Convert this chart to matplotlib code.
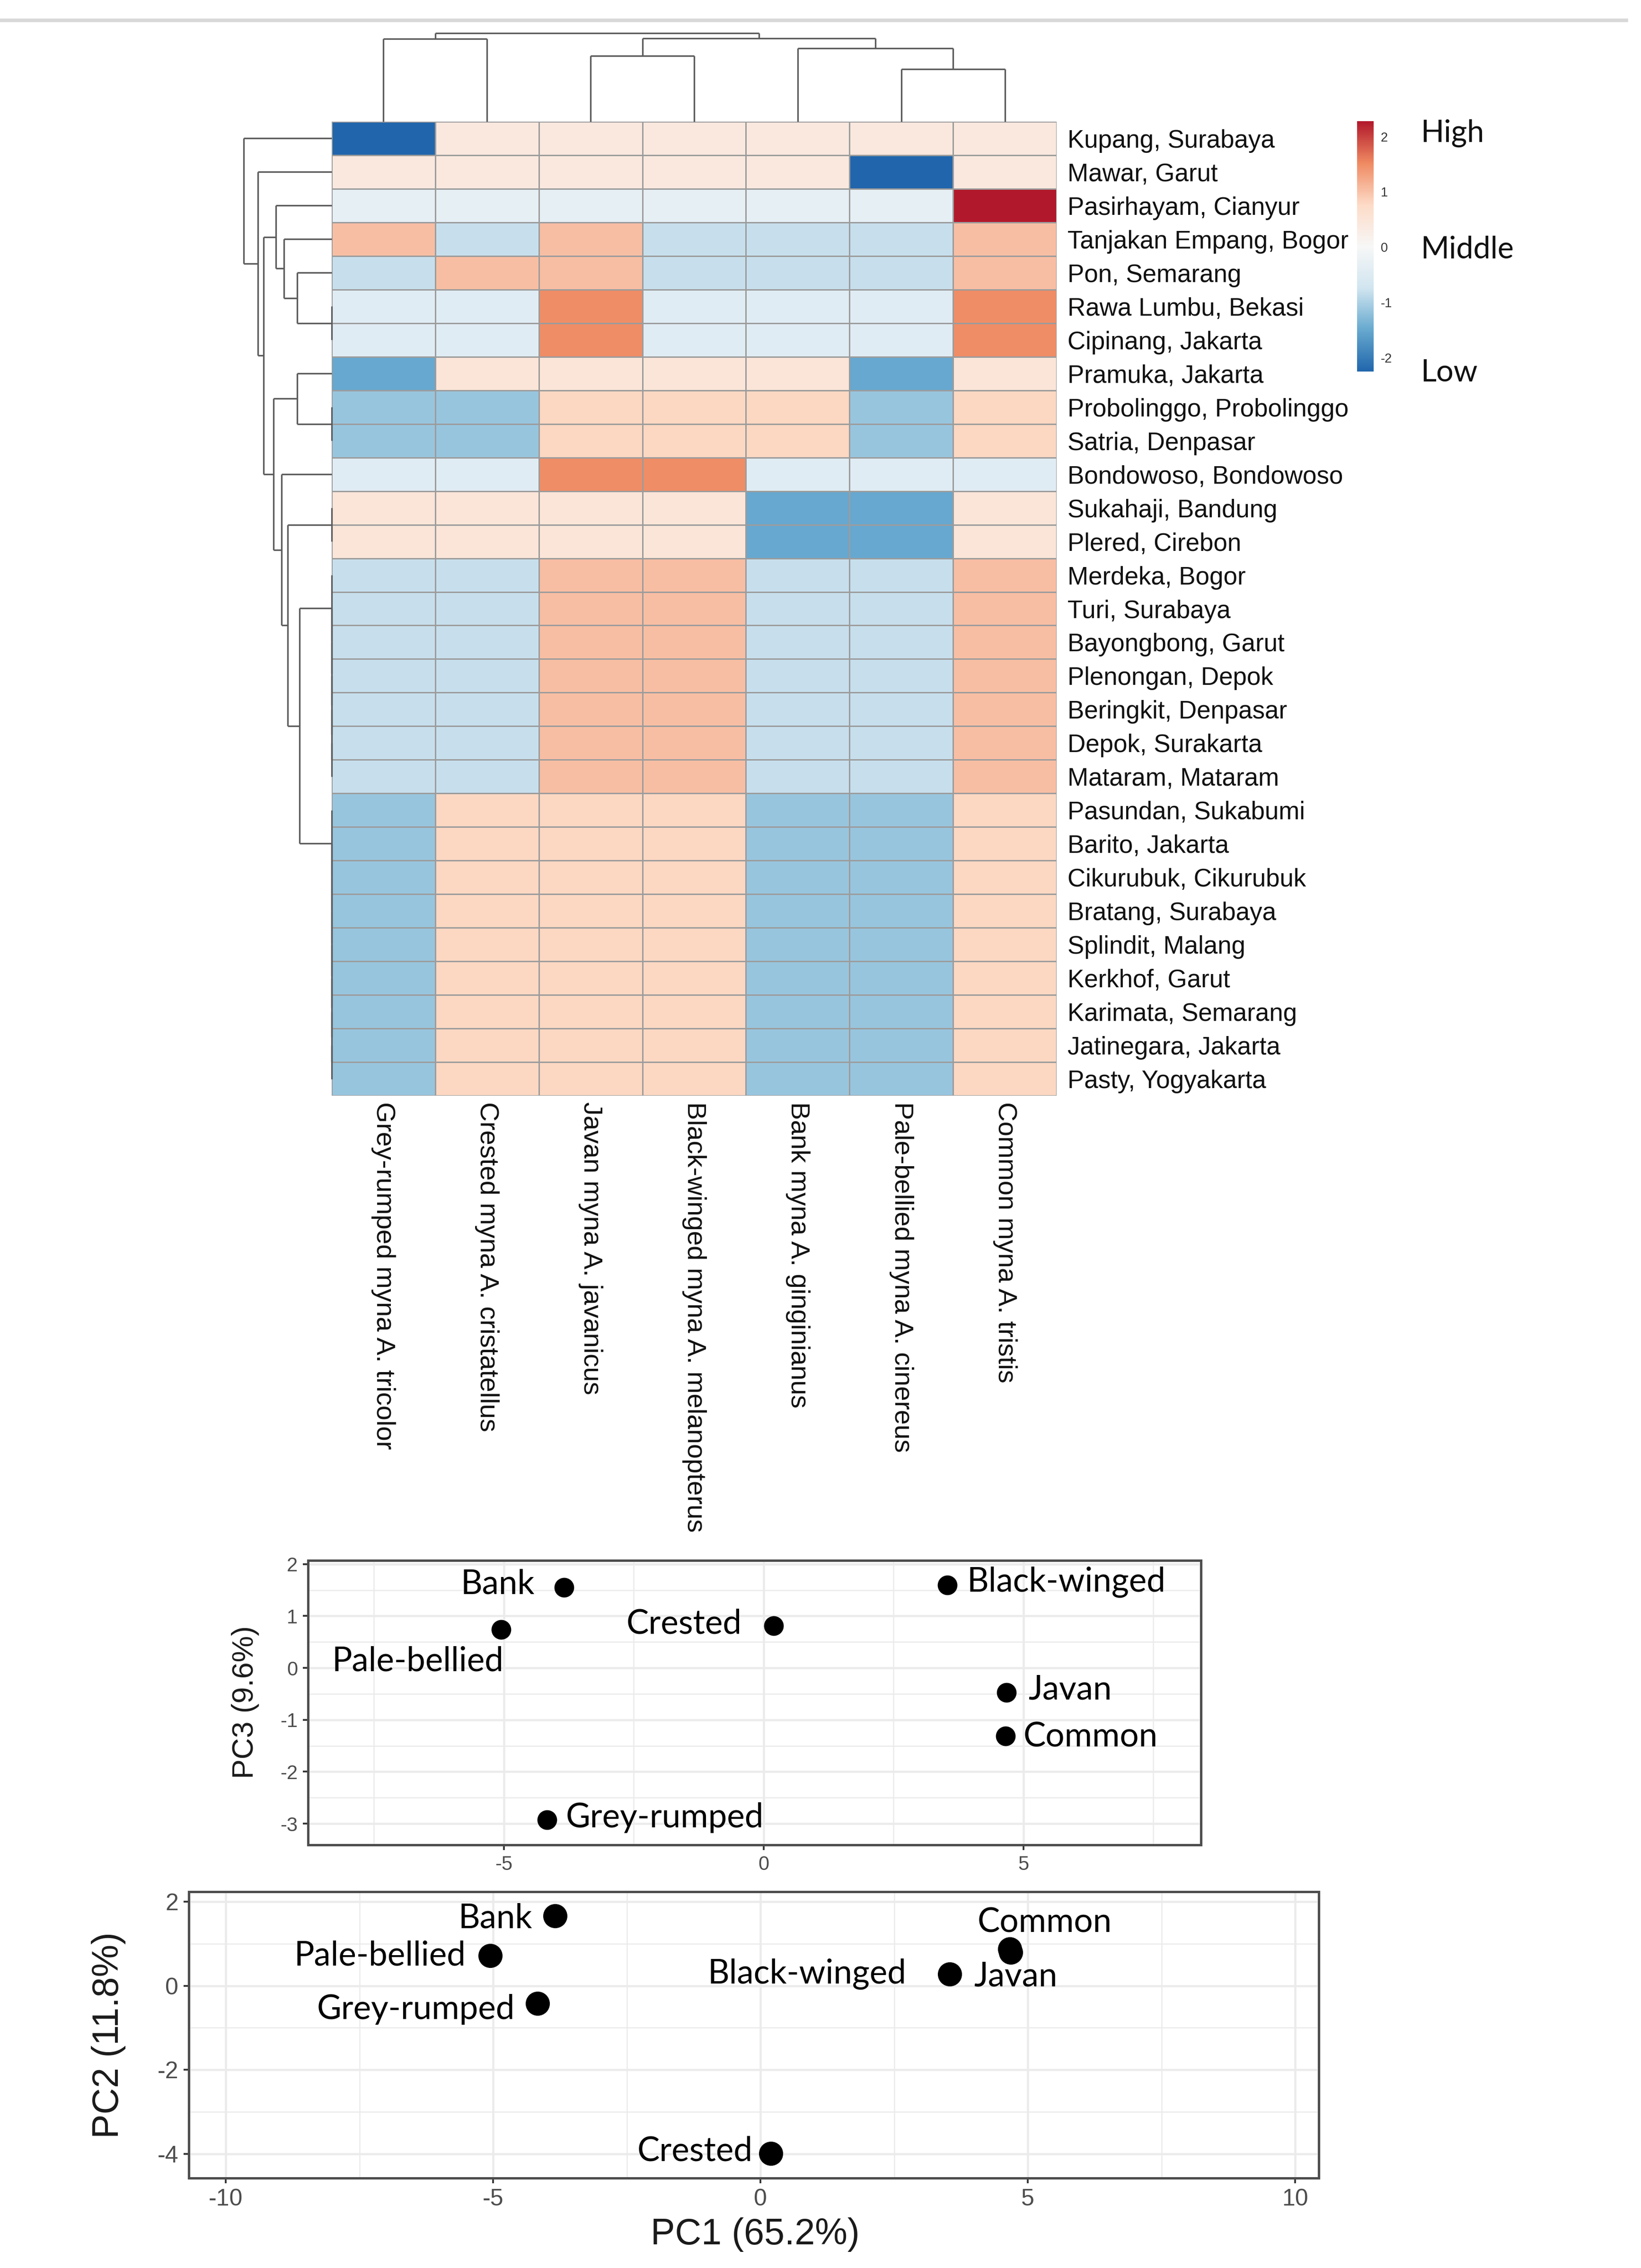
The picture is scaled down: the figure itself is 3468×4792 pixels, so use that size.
import numpy as np
import matplotlib
matplotlib.use("Agg")
import matplotlib.pyplot as plt
from matplotlib.colors import LinearSegmentedColormap, Normalize
import matplotlib.colorbar as mcolorbar
from matplotlib.ticker import MultipleLocator
from matplotlib.lines import Line2D

plt.rcParams['font.family'] = ['Liberation Sans', 'DejaVu Sans']
plt.rcParams['axes.unicode_minus'] = False

# ---------------- data ----------------
species = ["Grey-rumped myna A. tricolor", "Crested myna A. cristatellus",
           "Javan myna A. javanicus", "Black-winged myna A. melanopterus",
           "Bank myna A. ginginianus", "Pale-bellied myna A. cinereus",
           "Common myna A. tristis"]

sites = ["Kupang, Surabaya", "Mawar, Garut", "Pasirhayam, Cianyur",
         "Tanjakan Empang, Bogor", "Pon, Semarang", "Rawa Lumbu, Bekasi",
         "Cipinang, Jakarta", "Pramuka, Jakarta", "Probolinggo, Probolinggo",
         "Satria, Denpasar", "Bondowoso, Bondowoso", "Sukahaji, Bandung",
         "Plered, Cirebon", "Merdeka, Bogor", "Turi, Surabaya",
         "Bayongbong, Garut", "Plenongan, Depok", "Beringkit, Denpasar",
         "Depok, Surakarta", "Mataram, Mataram", "Pasundan, Sukabumi",
         "Barito, Jakarta", "Cikurubuk, Cikurubuk", "Bratang, Surabaya",
         "Splindit, Malang", "Kerkhof, Garut", "Karimata, Semarang",
         "Jatinegara, Jakarta", "Pasty, Yogyakarta"]

heat_values = [
    [-2.25, 0.42, 0.42, 0.42, 0.42, 0.42, 0.42],
    [0.42, 0.42, 0.42, 0.42, 0.42, -2.25, 0.42],
    [-0.33, -0.33, -0.33, -0.33, -0.33, -0.33, 2.28],
    [1.03, -0.80, 1.03, -0.80, -0.80, -0.80, 1.03],
    [-0.80, 1.03, 1.03, -0.80, -0.80, -0.80, 1.03],
    [-0.44, -0.44, 1.50, -0.44, -0.44, -0.44, 1.50],
    [-0.44, -0.44, 1.50, -0.44, -0.44, -0.44, 1.50],
    [-1.50, 0.50, 0.50, 0.50, 0.50, -1.50, 0.50],
    [-1.15, -1.15, 0.80, 0.80, 0.80, -1.15, 0.80],
    [-1.15, -1.15, 0.80, 0.80, 0.80, -1.15, 0.80],
    [-0.44, -0.44, 1.50, 1.50, -0.44, -0.44, -0.44],
    [0.50, 0.50, 0.50, 0.50, -1.50, -1.50, 0.50],
    [0.50, 0.50, 0.50, 0.50, -1.50, -1.50, 0.50],
    [-0.80, -0.80, 1.03, 1.03, -0.80, -0.80, 1.03],
    [-0.80, -0.80, 1.03, 1.03, -0.80, -0.80, 1.03],
    [-0.80, -0.80, 1.03, 1.03, -0.80, -0.80, 1.03],
    [-0.80, -0.80, 1.03, 1.03, -0.80, -0.80, 1.03],
    [-0.80, -0.80, 1.03, 1.03, -0.80, -0.80, 1.03],
    [-0.80, -0.80, 1.03, 1.03, -0.80, -0.80, 1.03],
    [-0.80, -0.80, 1.03, 1.03, -0.80, -0.80, 1.03],
    [-1.15, 0.80, 0.80, 0.80, -1.15, -1.15, 0.80],
    [-1.15, 0.80, 0.80, 0.80, -1.15, -1.15, 0.80],
    [-1.15, 0.80, 0.80, 0.80, -1.15, -1.15, 0.80],
    [-1.15, 0.80, 0.80, 0.80, -1.15, -1.15, 0.80],
    [-1.15, 0.80, 0.80, 0.80, -1.15, -1.15, 0.80],
    [-1.15, 0.80, 0.80, 0.80, -1.15, -1.15, 0.80],
    [-1.15, 0.80, 0.80, 0.80, -1.15, -1.15, 0.80],
    [-1.15, 0.80, 0.80, 0.80, -1.15, -1.15, 0.80],
    [-1.15, 0.80, 0.80, 0.80, -1.15, -1.15, 0.80],
]
color_min, color_max = -2.25, 2.28
colorbar_ticks = [-2, -1, 0, 1, 2]

# column dendrogram merges (leaves 0..6, new nodes 7..)
col_merge_left = [5, 2, 4, 0, 8, 10]
col_merge_right = [6, 3, 7, 1, 9, 11]
col_merge_height = [111, 139, 155, 175, 176, 187]

# row dendrogram merges (leaves 0..28, new nodes 29..)
row_merge_left = [5, 4, 3, 2, 8, 7, 11,
                  18, 17, 16, 15, 14, 13,
                  27, 26, 25, 24, 23, 22, 21, 20,
                  41, 35, 10, 34, 32, 1, 0]
row_merge_right = [6, 29, 30, 31, 9, 33, 12,
                   19, 36, 37, 38, 39, 40,
                   28, 42, 43, 44, 45, 46, 47, 48,
                   49, 50, 51, 52, 53, 54, 55]
row_merge_height = [0, 73, 101, 118, 0, 73, 0,
                    0, 0, 0, 0, 0, 0,
                    0, 0, 0, 0, 0, 0, 0, 0,
                    68, 93, 106, 123, 144, 156, 186]

pca_names = ["Bank", "Pale-bellied", "Crested", "Black-winged", "Javan", "Common", "Grey-rumped"]
pc1 = [-3.84, -5.05, 0.19, 3.54, 4.68, 4.66, -4.17]
pc3 = [1.55, 0.74, 0.81, 1.60, -0.47, -1.31, -2.93]
pc2 = [1.67, 0.72, -3.99, 0.28, 0.80, 0.88, -0.42]

# ---------------- layout helpers ----------------
W, H = 3468, 4792
DPI = 300
fig = plt.figure(figsize=(W / DPI, H / DPI), dpi=DPI)
fig.patch.set_facecolor('white')


def rect(x0, y0, x1, y1):
    return [x0 / W, 1 - y1 / H, (x1 - x0) / W, (y1 - y0) / H]


# top separator line
fig.add_artist(Line2D([0, 3437 / W], [1 - 43 / H, 1 - 43 / H], color='#d8d8d8',
                      lw=1.8, transform=fig.transFigure))

cmap = LinearSegmentedColormap.from_list(
    'rdbu7', ['#2166ac', '#67a9cf', '#d1e5f0', '#f7f7f7', '#fddbc7', '#ef8a62', '#b2182b'])
norm = Normalize(vmin=color_min, vmax=color_max)

# ---------------- heatmap ----------------
vals = np.array(heat_values)
nrow, ncol = vals.shape
ax_hm = fig.add_axes(rect(701, 257, 2233, 2315))
ax_hm.pcolormesh(np.arange(ncol + 1) - 0.5, np.arange(nrow + 1) - 0.5, vals,
                 cmap=cmap, norm=norm, edgecolors='#9c9c9c', linewidth=0.6)
ax_hm.set_xlim(-0.5, ncol - 0.5)
ax_hm.set_ylim(nrow - 0.5, -0.5)
for s in ax_hm.spines.values():
    s.set_visible(False)
ax_hm.yaxis.tick_right()
ax_hm.set_yticks(range(nrow))
ax_hm.set_yticklabels(sites, fontsize=12.7, color='#111111')
ax_hm.set_xticks(range(ncol))
ax_hm.set_xticklabels(species, rotation=270, fontsize=13.5, color='#111111')
ax_hm.tick_params(axis='y', length=0, pad=5.5)
ax_hm.tick_params(axis='x', length=0, pad=3.0)


def dendro_segments(n_leaves, left, right, height):
    pos = {i: float(i) for i in range(n_leaves)}
    hgt = {i: 0.0 for i in range(n_leaves)}
    segs = []
    for k, (a, b, h) in enumerate(zip(left, right, height)):
        node = n_leaves + k
        segs.append(((pos[a], hgt[a]), (pos[a], h)))
        segs.append(((pos[a], h), (pos[b], h)))
        segs.append(((pos[b], h), (pos[b], hgt[b])))
        pos[node] = (pos[a] + pos[b]) / 2
        hgt[node] = h
    return segs


dcol = '#5c5c5c'
# column dendrogram
ax_cd = fig.add_axes(rect(701, 57, 2233, 257))
for (p0, h0), (p1, h1) in dendro_segments(ncol, col_merge_left, col_merge_right, col_merge_height):
    ax_cd.plot([p0, p1], [h0, h1], color=dcol, lw=0.8, solid_capstyle='butt', clip_on=False)
ax_cd.set_xlim(-0.5, ncol - 0.5)
ax_cd.set_ylim(0, 200)
ax_cd.axis('off')

# row dendrogram
ax_rd = fig.add_axes(rect(501, 257, 701, 2315))
for (p0, h0), (p1, h1) in dendro_segments(nrow, row_merge_left, row_merge_right, row_merge_height):
    ax_rd.plot([h0, h1], [p0, p1], color=dcol, lw=0.8, solid_capstyle='butt', clip_on=False)
ax_rd.set_xlim(200, 0)
ax_rd.set_ylim(nrow - 0.5, -0.5)
ax_rd.axis('off')

# colour legend
cax = fig.add_axes(rect(2868, 256, 2903, 785))
cb = mcolorbar.ColorbarBase(cax, cmap=cmap, norm=norm, orientation='vertical')
cb.outline.set_visible(False)
cb.set_ticks(colorbar_ticks)
cb.set_ticklabels([str(t) for t in colorbar_ticks])
cax.tick_params(length=0, labelsize=6.5, pad=3.6, labelcolor='#333333')

legend_font = ['Lato', 'DejaVu Sans']
for txt, yc in [("High", 281), ("Middle", 528), ("Low", 787)]:
    fig.text(3002 / W, 1 - yc / H, txt, fontsize=15.5, family=legend_font,
             ha='left', va='center', color='#111111')

# ---------------- PCA panels ----------------
grid_col = '#ebebeb'
border_col = '#4d4d4d'


def style_pca(ax, xmaj, xmin, ymaj, ymin, tick_size):
    ax.set_facecolor('white')
    ax.xaxis.set_major_locator(MultipleLocator(xmaj))
    ax.xaxis.set_minor_locator(MultipleLocator(xmin))
    ax.yaxis.set_major_locator(MultipleLocator(ymaj))
    ax.yaxis.set_minor_locator(MultipleLocator(ymin))
    ax.grid(which='major', color=grid_col, lw=1.1)
    ax.grid(which='minor', color=grid_col, lw=0.6)
    ax.set_axisbelow(True)
    for s in ax.spines.values():
        s.set_color(border_col)
        s.set_linewidth(1.2)
    ax.tick_params(which='major', length=2.75, width=0.9, color='#333333',
                   labelsize=tick_size, labelcolor='#4d4d4d', pad=2.5)
    ax.tick_params(which='minor', length=0)


label_font = ['Lato', 'DejaVu Sans']

# PC1 vs PC3
ax1 = fig.add_axes(rect(651, 3297, 2538, 3898))
ax1.scatter(pc1, pc3, s=100, color='black', zorder=3, linewidths=0)
ax1.set_xlim(-8.77, 8.42)
ax1.set_ylim(-3.41, 2.07)
style_pca(ax1, 5, 2.5, 1, 0.5, 10)
off1 = {"Bank": (-15, 1.7, 'right'), "Pale-bellied": (1.3, -16, 'right'),
        "Crested": (-16, 1.1, 'right'), "Black-winged": (10, 1.3, 'left'),
        "Javan": (11, 1.4, 'left'), "Common": (9, -0.5, 'left'),
        "Grey-rumped": (9.6, 1.2, 'left')}
for name, x, y in zip(pca_names, pc1, pc3):
    dx, dy, ha = off1[name]
    ax1.annotate(name, (x, y), xytext=(dx, dy), textcoords='offset points',
                 ha=ha, va='center', fontsize=17, family=label_font, color='black')
fig.text(518 / W, 1 - 3597 / H, "PC3 (9.6%)", rotation=90, fontsize=15,
         ha='center', va='center', color='#1a1a1a')

# PC1 vs PC2
ax2 = fig.add_axes(rect(399, 3997, 2787, 4602))
ax2.scatter(pc1, pc2, s=150, color='black', zorder=3, linewidths=0)
ax2.set_xlim(-10.69, 10.44)
ax2.set_ylim(-4.58, 2.24)
style_pca(ax2, 5, 2.5, 2, 1, 12)
off2 = {"Bank": (-11.5, -1.4, 'right'), "Pale-bellied": (-12.5, 0, 'right'),
        "Crested": (-9, 1, 'right'), "Black-winged": (-22, 0, 'right'),
        "Javan": (-18.7, -12.2, 'left'), "Common": (17.8, 13.4, 'center'),
        "Grey-rumped": (-11.5, -2.9, 'right')}
for name, x, y in zip(pca_names, pc1, pc2):
    dx, dy, ha = off2[name]
    ax2.annotate(name, (x, y), xytext=(dx, dy), textcoords='offset points',
                 ha=ha, va='center', fontsize=17, family=label_font, color='black')
fig.text(230 / W, 1 - 4300 / H, "PC2 (11.8%)", rotation=90, fontsize=18.5,
         ha='center', va='center', color='#1a1a1a')
fig.text(1596 / W, 1 - 4722 / H, "PC1 (65.2%)", fontsize=18.5,
         ha='center', va='center', color='#1a1a1a')

fig.savefig("out.png", dpi=DPI, facecolor='white')
